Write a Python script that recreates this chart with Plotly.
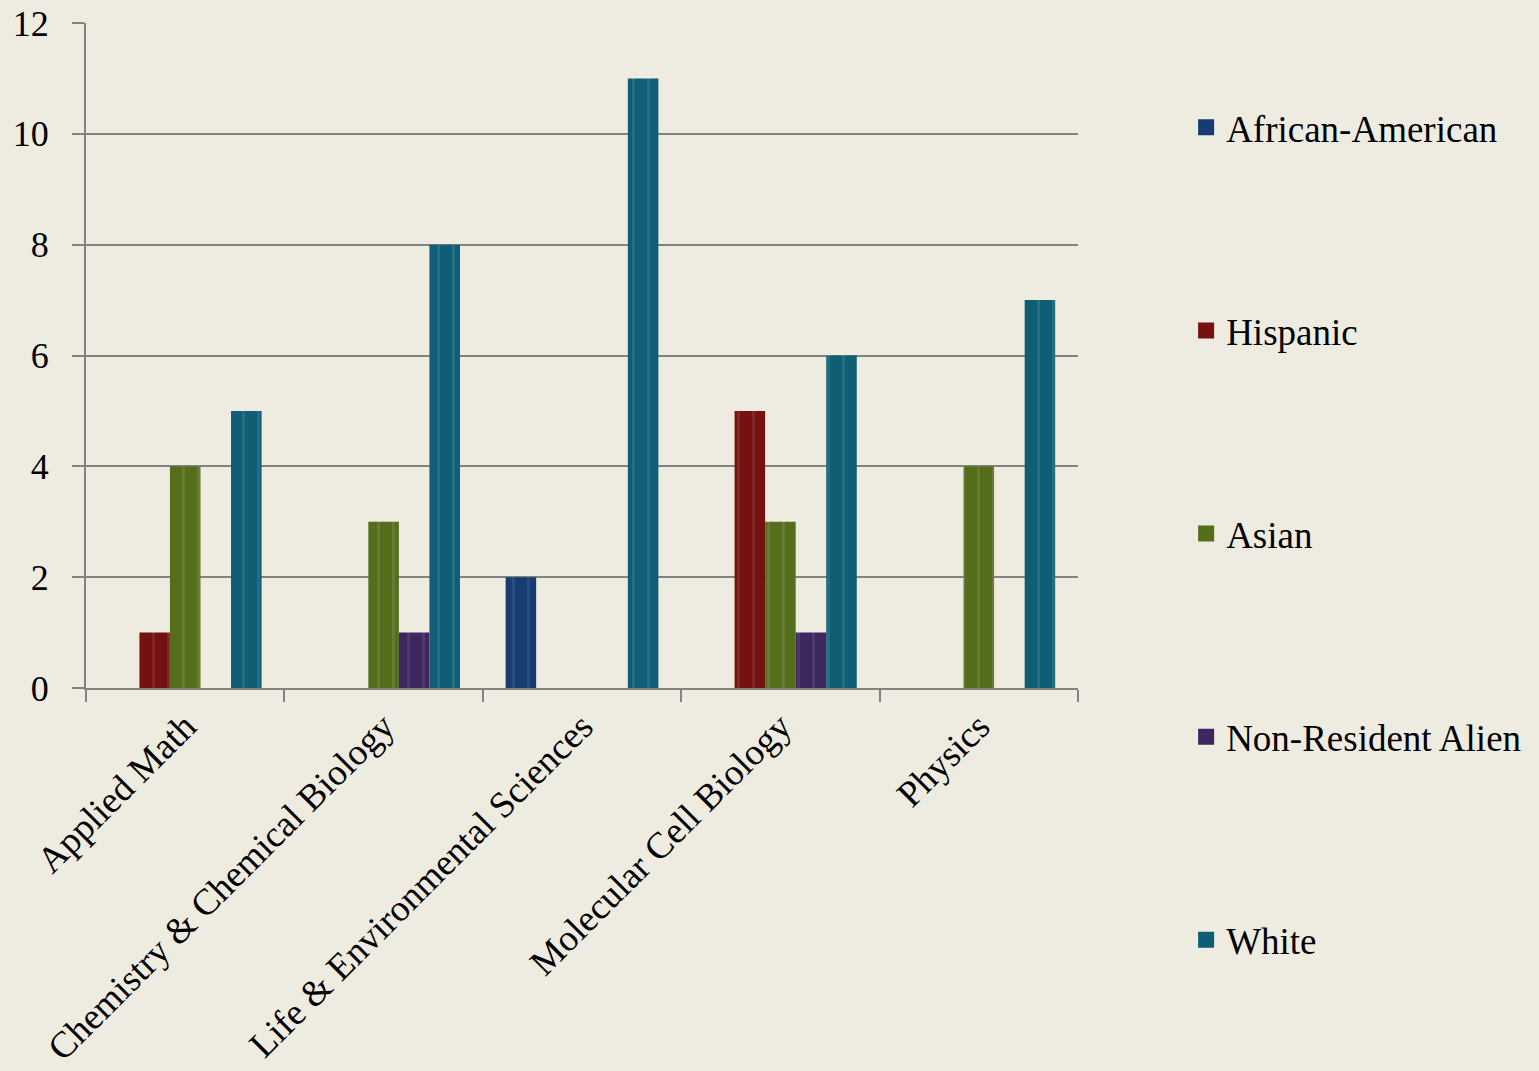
import plotly.graph_objects as go

categories = ["Applied Math", "Chemistry & Chemical Biology", "Life & Environmental Sciences",
              "Molecular Cell Biology", "Physics"]
african_american = [0, 0, 2, 0, 0]
hispanic = [1, 0, 0, 5, 0]
asian = [4, 3, 0, 3, 4]
non_resident_alien = [0, 1, 0, 1, 0]
white = [5, 8, 11, 6, 7]
y_ticks = [0, 2, 4, 6, 8, 10, 12]

series = [
    ("African-American", african_american, "#163C70", "#3C5E8C"),
    ("Hispanic", hispanic, "#731211", "#8E3C3A"),
    ("Asian", asian, "#546E1C", "#768C47"),
    ("Non-Resident Alien", non_resident_alien, "#3E275E", "#5E4A7C"),
    ("White", white, "#0F5E75", "#3C7F92"),
]

FONT = "Liberation Serif"
BG = "#EEEBE0"

fig = go.Figure()
for i, (name, vals, col, light) in enumerate(series):
    fig.add_trace(go.Bar(
        name=name, x=categories, y=vals,
        marker=dict(color=col, line=dict(width=0),
                    pattern=dict(shape="|", fgcolor=light, bgcolor=col, size=15, solidity=0.2)),
        showlegend=False,
    ))
# legend entries (square swatches)
for i, (name, vals, col, light) in enumerate(series):
    fig.add_trace(go.Scatter(
        name=name, x=[None], y=[None], mode="markers",
        marker=dict(symbol="square", size=22, color=col, line=dict(width=0)),
        legendgroup=f"g{i}", showlegend=True,
    ))

fig.update_layout(
    barmode="group",
    bargap=0.23,
    bargroupgap=0,
    paper_bgcolor=BG,
    plot_bgcolor=BG,
    width=1539, height=1071,
    margin=dict(l=86, r=461, t=23, b=383),
    font=dict(family=FONT, size=37, color="#000000"),
    legend=dict(
        x=1.109, xanchor="left", y=0.889, yanchor="top",
        font=dict(family=FONT, size=37),
        tracegroupgap=152,
        bgcolor="rgba(0,0,0,0)",
        itemwidth=30,
        itemsizing="trace",
        maxheight=1000,
    ),
    showlegend=True,
)
fig.update_xaxes(
    showline=True, linecolor="#828282", linewidth=2,
    ticks="outside", tickson="boundaries", ticklen=12, tickcolor="#828282", tickwidth=2,
    tickangle=-45, showgrid=False, automargin=False,
    tickfont=dict(family=FONT, size=37),
)
fig.update_yaxes(
    range=[0, 12], tickvals=y_ticks,
    showline=True, linecolor="#828282", linewidth=2,
    ticks="outside", ticklen=12, tickcolor="#828282", tickwidth=2,
    showgrid=True, gridcolor="#828282", gridwidth=2,
    zeroline=False, automargin=False,
    tickfont=dict(family=FONT, size=36),
    ticklabelstandoff=16,
)
fig.write_html("out.html", config={"displayModeBar": False},
               post_script="document.body.style.margin='0';document.body.style.overflow='hidden';")
